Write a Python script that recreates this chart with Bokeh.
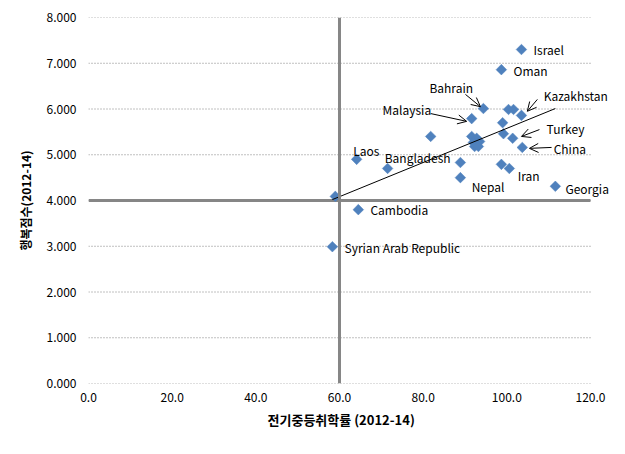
import math
from bokeh.plotting import figure
from bokeh.models import (ColumnDataSource, Span, Arrow, OpenHead, NumeralTickFormatter,
                          FixedTicker, Title)
from bokeh.core.properties import value
from bokeh.embed import file_html
from bokeh.resources import INLINE

# Data: enrollment rate (x) vs happiness score (y)
enroll = [103.5, 98.7, 94.4, 91.6, 100.4, 101.6, 103.5, 99.0, 99.2, 101.4, 103.7, 81.8,
          91.6, 92.8, 92.0, 93.5, 92.3, 93.2, 64.1, 71.5, 88.9, 88.9, 98.7, 100.6, 111.6,
          59.0, 64.5, 58.3]
happy = [7.30, 6.86, 6.01, 5.79, 5.99, 5.99, 5.86, 5.70, 5.46, 5.36, 5.16, 5.40,
         5.40, 5.36, 5.27, 5.29, 5.18, 5.18, 4.90, 4.70, 4.83, 4.50, 4.79, 4.70, 4.31,
         4.09, 3.80, 2.99]

# Trend line endpoints
trend_x = [58.3, 111.6]
trend_y = [4.02, 6.01]

# Labels
label_text = ["Israel", "Oman", "Bahrain", "Malaysia", "Kazakhstan", "Turkey", "China",
              "Laos", "Bangladesh", "Nepal", "Iran", "Georgia", "Cambodia", "Syrian Arab Republic"]
label_x = [106.4, 101.6, 81.5, 70.3, 108.8, 109.5, 111.2, 63.3, 70.8, 91.6, 102.6, 114.0, 67.4, 61.2]
label_y = [7.30, 6.84, 6.47, 5.99, 6.30, 5.57, 5.14, 5.09, 4.94, 4.31, 4.55, 4.26, 3.80, 2.97]

# Arrows (label -> point)
arrow_x0 = [81.8, 90.1, 107.3, 107.8, 110.7]
arrow_y0 = [5.90, 6.32, 6.21, 5.55, 5.16]
arrow_x1 = [90.4, 93.7, 104.9, 103.5, 105.4]
arrow_y1 = [5.73, 6.05, 5.95, 5.40, 5.14]

x_title = "전기중등취학률 (2012-14)"
y_title = "행복점수(2012-14)"

x_min, x_max = 0, 120
y_min, y_max = 0, 8
x_cross = 60
y_cross = 4
x_ticks = [0, 20, 40, 60, 80, 100, 120]
y_ticks = [0, 1, 2, 3, 4, 5, 6, 7, 8]

FONT = "Noto Sans CJK KR"

# frame extends to the right edge so the labels there are not clipped
p = figure(width=625, height=454, x_range=(x_min, 128.37), y_range=(y_min, y_max),
           output_backend="svg", toolbar_location=None,
           min_border_left=88, min_border_right=0, min_border_top=17, min_border_bottom=71)
p.outline_line_color = None
p.background_fill_color = "white"
p.border_fill_color = "white"
p.xgrid.grid_line_color = None
p.ygrid.grid_line_color = None

for ax in (p.xaxis, p.yaxis):
    ax.axis_line_color = None
    ax.major_tick_line_color = None
    ax.minor_tick_line_color = None
    ax.major_tick_out = 0
    ax.major_tick_in = 0
    ax.major_label_text_font = FONT
    ax.major_label_text_font_size = "12px"
    ax.major_label_text_color = "#000000"
    ax.axis_label_text_font = FONT
    ax.axis_label_text_font_size = "12px"
    ax.axis_label_text_font_style = "bold"
    ax.axis_label_text_color = "#000000"

p.xaxis.ticker = FixedTicker(ticks=x_ticks)
p.yaxis.ticker = FixedTicker(ticks=y_ticks)
p.xaxis.formatter = NumeralTickFormatter(format="0.0")
p.yaxis.formatter = NumeralTickFormatter(format="0.000")
p.xaxis.major_label_standoff = 9
p.yaxis.major_label_standoff = 12
p.yaxis.axis_label = y_title
p.yaxis.axis_label_standoff = 10

# x-axis title, centred under the 0-120 region
p.add_layout(Title(text=x_title, align="left", offset=179, standoff=7,
                   text_font=FONT, text_font_size="13px", text_font_style="bold",
                   text_color="#000000"), "below")

# Dotted horizontal gridlines over 0-120
p.segment(x0=[x_min] * len(y_ticks), x1=[x_max] * len(y_ticks), y0=y_ticks, y1=y_ticks,
          line_color="#808080", line_dash="1 2", line_width=1)

# Crossing axes lines
p.add_layout(Span(location=x_cross, dimension="height", line_color="#868686", line_width=3))
p.segment(x0=[x_min], x1=[x_max], y0=[y_cross], y1=[y_cross], line_color="#868686", line_width=3)

# Points (diamonds = squares rotated 45 degrees)
src = ColumnDataSource(dict(x=enroll, y=happy))
p.scatter("x", "y", source=src, marker="square", angle=math.pi / 4, size=7.5,
          fill_color="#4F81BD", line_color="#4F81BD", line_width=0.5)

# Trend line
p.line(trend_x, trend_y, line_color="#000000", line_width=1)

# Labels
lsrc = ColumnDataSource(dict(x=label_x, y=label_y, t=label_text))
p.text("x", "y", text="t", source=lsrc, text_font=value(FONT), text_font_size="12px",
       text_align="left", text_baseline="middle", text_color="#000000")

# Arrows
for x0, y0, x1, y1 in zip(arrow_x0, arrow_y0, arrow_x1, arrow_y1):
    p.add_layout(Arrow(x_start=x0, y_start=y0, x_end=x1, y_end=y1,
                       line_color="#000000", line_width=1,
                       end=OpenHead(size=9, line_color="#000000", line_width=1)))

open("out.html", "w").write(file_html(p, INLINE))
